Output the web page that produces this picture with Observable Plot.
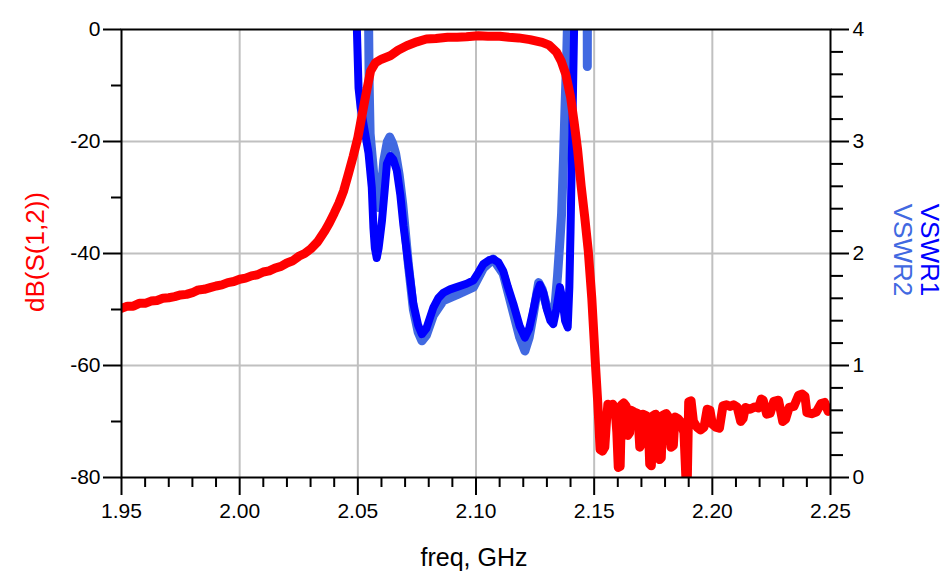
<!DOCTYPE html>
<html>
<head>
<meta charset="utf-8">
<script src="https://cdn.jsdelivr.net/npm/d3@7"></script>
<script src="https://cdn.jsdelivr.net/npm/@observablehq/plot@0.6"></script>
<style>
  html, body { margin: 0; padding: 0; background: #fff; }
  #chart { width: 950px; height: 579px; }
</style>
</head>
<body>
<div id="chart"></div>
<script>
// ---- data: [freq GHz, value] ----
const s12 = [
  [1.950,-49.8],[1.9525,-49.4],[1.955,-49.4],[1.9575,-48.9],[1.960,-48.9],[1.9625,-48.5],
  [1.965,-48.4],[1.9675,-48.0],[1.970,-47.9],[1.9725,-47.7],[1.975,-47.4],[1.9775,-47.3],
  [1.980,-47.0],[1.9825,-46.5],[1.985,-46.4],[1.9875,-46.1],[1.990,-45.8],[1.9925,-45.6],
  [1.995,-45.2],[1.9975,-45.0],[2.000,-44.6],[2.0025,-44.4],[2.005,-44.0],[2.0075,-43.8],
  [2.010,-43.3],[2.0125,-43.1],[2.015,-42.6],[2.0175,-42.3],[2.020,-41.7],[2.0225,-41.3],
  [2.025,-40.5],[2.0275,-40.0],[2.030,-39.2],[2.033,-37.9],
  [2.036,-36.0],[2.038,-34.5],[2.040,-32.8],[2.042,-31.0],[2.044,-28.8],[2.046,-25.8],
  [2.048,-22.7],[2.050,-19.3],[2.0532,-12.1],[2.0554,-7.4],[2.0575,-5.9],[2.060,-5.3],[2.0637,-4.7],
  [2.067,-3.7],[2.0707,-2.9],[2.075,-2.2],[2.079,-1.7],[2.083,-1.6],[2.088,-1.4],[2.092,-1.4],
  [2.096,-1.3],[2.101,-1.1],[2.105,-1.2],[2.110,-1.2],[2.114,-1.4],
  [2.118,-1.5],[2.1228,-1.8],[2.128,-2.3],[2.131,-2.8],[2.134,-4.0],[2.136,-5.6],
  [2.138,-8.0],[2.140,-12.0],[2.1415,-16.5],[2.143,-21.5],[2.1445,-28.0],[2.146,-33.5],
  [2.1475,-39.5],[2.149,-48.0],[2.150,-55.5],[2.1505,-59.5],[2.1515,-66.5],
  [2.1520,-70.5],[2.1525,-75.0],[2.1535,-75.3],[2.1545,-74.6],[2.1552,-70.0],[2.1558,-66.9],
  [2.1568,-67.2],[2.1578,-66.9],[2.1588,-67.5],[2.1596,-72.0],[2.1602,-78.2],[2.1610,-78.0],
  [2.1616,-67.0],[2.1625,-66.7],[2.1635,-67.2],[2.1642,-72.5],[2.1650,-72.0],[2.1656,-68.0],
  [2.1670,-68.3],[2.1685,-68.6],[2.1693,-74.6],[2.1700,-74.0],[2.1706,-68.7],[2.1718,-68.9],
  [2.1728,-69.2],[2.1735,-77.6],[2.1742,-77.9],[2.1748,-69.0],[2.1760,-68.7],[2.1770,-69.5],
  [2.1777,-76.8],[2.1784,-76.5],[2.1790,-68.9],[2.1805,-68.6],[2.1815,-69.2],[2.1825,-74.6],
  [2.1835,-74.3],[2.1842,-69.2],[2.1855,-69.5],[2.1865,-70.0],[2.1880,-72.0],[2.1888,-80.0],
  [2.1894,-80.5],[2.1900,-66.5],[2.1910,-66.3],[2.1920,-70.0],[2.1935,-71.0],[2.1950,-71.5],
  [2.1965,-71.0],[2.1978,-67.8],[2.1990,-68.0],[2.2000,-70.5],[2.2015,-71.0],[2.2030,-71.2],
  [2.2045,-67.2],[2.2060,-67.0],[2.2075,-67.3],[2.2090,-67.0],[2.2105,-67.4],[2.2120,-70.0],
  [2.2130,-69.5],[2.2140,-67.5],[2.2160,-67.8],[2.2180,-67.4],[2.2195,-67.6],[2.2207,-66.0],
  [2.2215,-66.2],[2.2230,-68.7],[2.2245,-68.5],[2.2260,-66.4],[2.2280,-66.2],[2.2298,-70.0],
  [2.2310,-69.6],[2.2325,-67.5],[2.2345,-67.3],[2.2365,-65.3],[2.2380,-65.1],[2.2392,-65.5],
  [2.2400,-68.4],[2.2420,-68.6],[2.2440,-68.3],[2.2460,-66.8],[2.2475,-66.6],[2.2490,-68.2],
  [2.2500,-68.0]
];

const vswr1 = [
  [2.0490,6.0],[2.0496,4.0],[2.0503,3.48],[2.0512,3.30],[2.0531,3.07],[2.0545,2.90],
  [2.0559,2.59],[2.0566,2.23],[2.0572,2.05],[2.0580,1.96],[2.0588,2.05],[2.0602,2.29],
  [2.0615,2.60],[2.0623,2.80],[2.0637,2.87],[2.0650,2.84],[2.0665,2.74],[2.0680,2.52],
  [2.0693,2.25],[2.0714,1.90],[2.0735,1.55],[2.0755,1.36],[2.0771,1.28],[2.0790,1.33],
  [2.0820,1.52],[2.0840,1.60],[2.0862,1.65],[2.0890,1.68],[2.0918,1.70],[2.0960,1.73],
  [2.0989,1.76],[2.1010,1.83],[2.1031,1.905],[2.1055,1.94],[2.1073,1.95],[2.1095,1.92],
  [2.1115,1.845],[2.1135,1.70],[2.1158,1.55],[2.1185,1.35],[2.1207,1.25],[2.1225,1.33],
  [2.1242,1.49],[2.1258,1.65],[2.1270,1.72],[2.1285,1.65],[2.1300,1.50],[2.1315,1.40],
  [2.1327,1.37],[2.1340,1.50],[2.1355,1.70],[2.1365,1.60],[2.1377,1.40],[2.1388,1.34],
  [2.1395,1.70],[2.1400,2.20],[2.1405,2.80],[2.1410,3.40],[2.1415,4.0],[2.1425,6.0]
];

const vswr2 = [
  [2.0538,6.0],[2.0545,4.2],[2.0548,3.5],[2.0552,3.07],[2.0566,2.74],[2.0580,2.45],
  [2.0588,2.41],[2.0595,2.45],[2.0610,2.83],[2.0625,3.00],[2.0635,3.04],[2.0648,2.98],
  [2.0660,2.89],[2.0675,2.70],[2.0690,2.44],[2.0714,1.90],[2.0735,1.50],[2.0755,1.30],
  [2.0771,1.22],[2.0790,1.27],[2.0820,1.45],[2.0862,1.58],[2.0918,1.63],[2.0989,1.70],
  [2.1031,1.87],[2.1073,1.95],[2.1115,1.82],[2.1158,1.47],[2.1185,1.25],[2.1207,1.13],
  [2.1225,1.25],[2.1242,1.45],[2.1265,1.74],[2.1280,1.68],[2.1300,1.52],[2.1320,1.42],
  [2.1335,1.55],[2.1345,1.80],[2.1355,2.11],[2.1362,2.35],[2.1370,2.83],[2.1377,3.33],
  [2.1384,3.78],[2.1390,4.3],[2.1400,6.0],[2.1469,6.0],[2.1471,3.67],[2.1473,6.0],[2.1480,6.0]
];

// ---- ticks ----
const xMajor = [1.95, 2.00, 2.05, 2.10, 2.15, 2.20, 2.25];
const xMinor = d3.range(0, 31).map(i => +(1.95 + i * 0.01).toFixed(2)).filter(v => !xMajor.some(m => Math.abs(m - v) < 1e-9));
const dbMajor = [-80, -60, -40, -20, 0];
const dbMinor = [-70, -50, -30, -10];
const vswrMajor = [0, 1, 2, 3, 4];
const vswrMinor = d3.range(0, 21).map(i => +(i * 0.2).toFixed(1)).filter(v => !vswrMajor.includes(v));
const xGrid = [2.00, 2.05, 2.10, 2.15, 2.20];
const dbGrid = [-60, -40, -20];

// VSWR (0..4) drawn on the dB scale (-80..0)
const v2db = v => v * 20 - 80;
const db2v = d => (d + 80) / 20;

const fontFamily = "'Liberation Sans', Arial, sans-serif";
const gridColor = "#c0c0c0";

const chart = Plot.plot({
  width: 950,
  height: 579,
  marginLeft: 121,
  marginRight: 120,
  marginTop: 29,
  marginBottom: 102,
  style: { fontFamily, fontSize: "21px", background: "white", color: "black" },
  x: { domain: [1.95, 2.25], axis: null },
  y: { domain: [-80, 0], axis: null },
  marks: [
    Plot.gridX(xGrid, { stroke: gridColor, strokeOpacity: 1, strokeWidth: 2 }),
    Plot.gridY(dbGrid, { stroke: gridColor, strokeOpacity: 1, strokeWidth: 2 }),
    Plot.line(vswr2, { x: d => d[0], y: d => v2db(d[1]), stroke: "#4169e1", strokeWidth: 9, clip: true }),
    Plot.line(vswr1, { x: d => d[0], y: d => v2db(d[1]), stroke: "#0000ff", strokeWidth: 8, clip: true }),
    Plot.line(s12, { x: d => d[0], y: d => d[1], stroke: "#ff0000", strokeWidth: 9, clip: true }),
    Plot.frame({ stroke: "black", strokeWidth: 2 }),
    // bottom axis
    Plot.axisX({ ticks: xMajor, tickSize: 18, tickPadding: 8, tickFormat: d3.format(".2f"), strokeWidth: 2, label: null, fontSize: 21 }),
    Plot.axisX({ ticks: xMinor, tickSize: 10, tickFormat: () => "", strokeWidth: 2, label: null }),
    // left axis
    Plot.axisY({ anchor: "left", ticks: dbMajor, tickSize: 18, tickPadding: 3, tickFormat: d => String(d), strokeWidth: 2, label: null, fontSize: 21 }),
    Plot.axisY({ anchor: "left", ticks: dbMinor, tickSize: 10, tickFormat: () => "", strokeWidth: 2, label: null }),
    // right axis (VSWR)
    Plot.axisY({ anchor: "right", ticks: vswrMajor.map(v2db), tickSize: 18, tickPadding: 4, tickFormat: d => String(Math.round(db2v(d))), strokeWidth: 2, label: null, fontSize: 21 }),
    Plot.axisY({ anchor: "right", ticks: vswrMinor.map(v2db), tickSize: 12, tickFormat: () => "", strokeWidth: 2, label: null })
  ]
});

document.getElementById("chart").appendChild(chart);

// axis titles
const svg = d3.select(chart);
svg.append("text")
  .attr("x", 474).attr("y", 566)
  .attr("text-anchor", "middle")
  .attr("font-family", fontFamily).attr("font-size", 25)
  .attr("fill", "black")
  .text("freq, GHz");

svg.append("text")
  .attr("transform", "translate(44,252) rotate(-90)")
  .attr("text-anchor", "middle")
  .attr("font-family", fontFamily).attr("font-size", 26)
  .attr("fill", "#ff0000")
  .text("dB(S(1,2))");

svg.append("text")
  .attr("transform", "translate(921,250) rotate(90)")
  .attr("text-anchor", "middle")
  .attr("font-family", fontFamily).attr("font-size", 26)
  .attr("fill", "#0000ff")
  .text("VSWR1");

svg.append("text")
  .attr("transform", "translate(894,250) rotate(90)")
  .attr("text-anchor", "middle")
  .attr("font-family", fontFamily).attr("font-size", 26)
  .attr("fill", "#4169e1")
  .text("VSWR2");
</script>
</body>
</html>
